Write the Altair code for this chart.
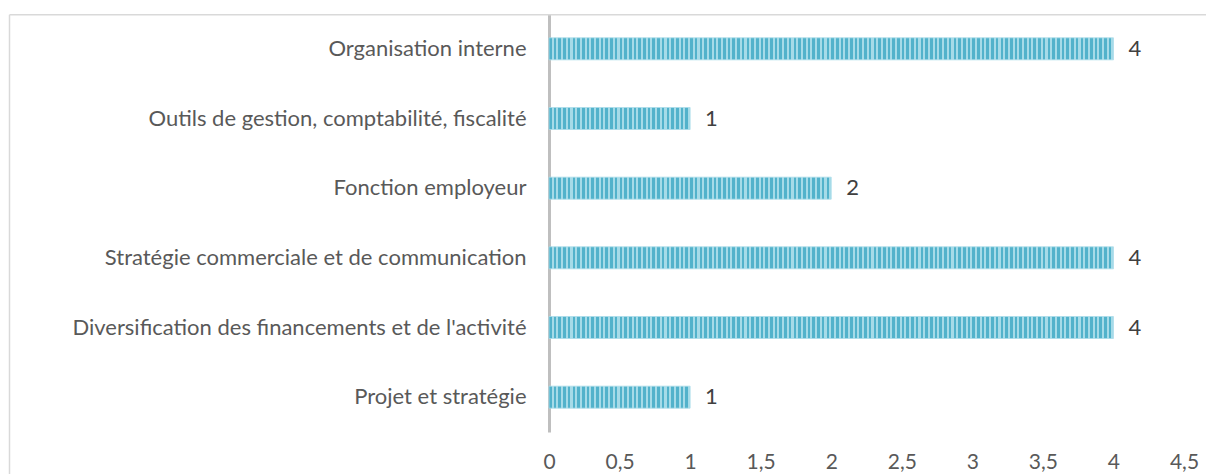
import altair as alt
import pandas as pd

categories = [
    "Organisation interne",
    "Outils de gestion, comptabilité, fiscalité",
    "Fonction employeur",
    "Stratégie commerciale et de communication",
    "Diversification des financements et de l'activité",
    "Projet et stratégie",
]
values = [4, 1, 2, 4, 4, 1]
x_ticks = [0, 0.5, 1, 1.5, 2, 2.5, 3, 3.5, 4, 4.5]

df = pd.DataFrame({"cat": categories, "value": values})

FONT = "Lato"
FS = 22
DARK = "#52b2cb"
LIGHT = "#a6dbe8"


def stripes(n):
    stops = []
    for i in range(n):
        a = i / n
        b = (i + 0.55) / n
        c = (i + 1) / n
        stops += [
            {"offset": a, "color": DARK},
            {"offset": b, "color": DARK},
            {"offset": b, "color": LIGHT},
            {"offset": c, "color": LIGHT},
        ]
    return {"gradient": "linear", "x1": 0, "x2": 1, "y1": 0, "y2": 0, "stops": stops}


PER_UNIT = 30
fill = (
    alt.when(alt.datum.value == 4).then(alt.value(stripes(4 * PER_UNIT)))
    .when(alt.datum.value == 2).then(alt.value(stripes(2 * PER_UNIT)))
    .otherwise(alt.value(stripes(1 * PER_UNIT)))
)

y_enc = alt.Y(
    "cat:N",
    sort=categories,
    title=None,
    axis=alt.Axis(
        labelFont=FONT,
        labelFontSize=FS,
        labelColor="#595959",
        labelPadding=23,
        ticks=False,
        domainColor="#bfbfbf",
        domainWidth=3,
        labelLimit=700,
        grid=False,
    ),
)
x_enc = alt.X(
    "value:Q",
    scale=alt.Scale(domain=[0, 4.5], nice=False),
    title=None,
    axis=alt.Axis(
        values=x_ticks,
        labelExpr="replace(datum.value + '', '.', ',')",
        labelFont=FONT,
        labelFontSize=21,
        labelColor="#595959",
        labelPadding=19,
        labelFlush=False,
        labelOverlap=False,
        ticks=False,
        domain=False,
        grid=False,
    ),
)

base = alt.Chart(df)
bars = base.mark_bar(size=22, stroke="#aadcea", strokeWidth=0.8).encode(
    y=y_enc, x=x_enc, fill=fill
)
labels = base.mark_text(
    align="left", baseline="middle", dx=15, font=FONT, fontSize=FS, color="#404040"
).encode(y=alt.Y("cat:N", sort=categories), x="value:Q", text="value:Q")

frame_df = pd.DataFrame({"a": [0]})
frame_top = alt.Chart(frame_df).mark_rule(color="#d9d9d9", strokeWidth=1.5).encode(
    x=alt.value(-539.5), x2=alt.value(660), y=alt.value(0.8)
)
frame_left = alt.Chart(frame_df).mark_rule(color="#d9d9d9", strokeWidth=1.5).encode(
    x=alt.value(-539.5), y=alt.value(0.8), y2=alt.value(470)
)

chart = (
    alt.layer(frame_top, frame_left, bars, labels)
    .properties(
        width=635,
        height=418,
        autosize=alt.AutoSizeParams(type="none"),
        padding={"left": 541, "top": 6, "right": 22, "bottom": 42},
        view=alt.ViewBackground(stroke="transparent", strokeWidth=0),
    )
    .configure_view(stroke="transparent", strokeWidth=0)
    .configure_axis(grid=False)
    .configure(background="white")
)

chart.save("out.html", embed_options={"renderer": "svg", "actions": False})
